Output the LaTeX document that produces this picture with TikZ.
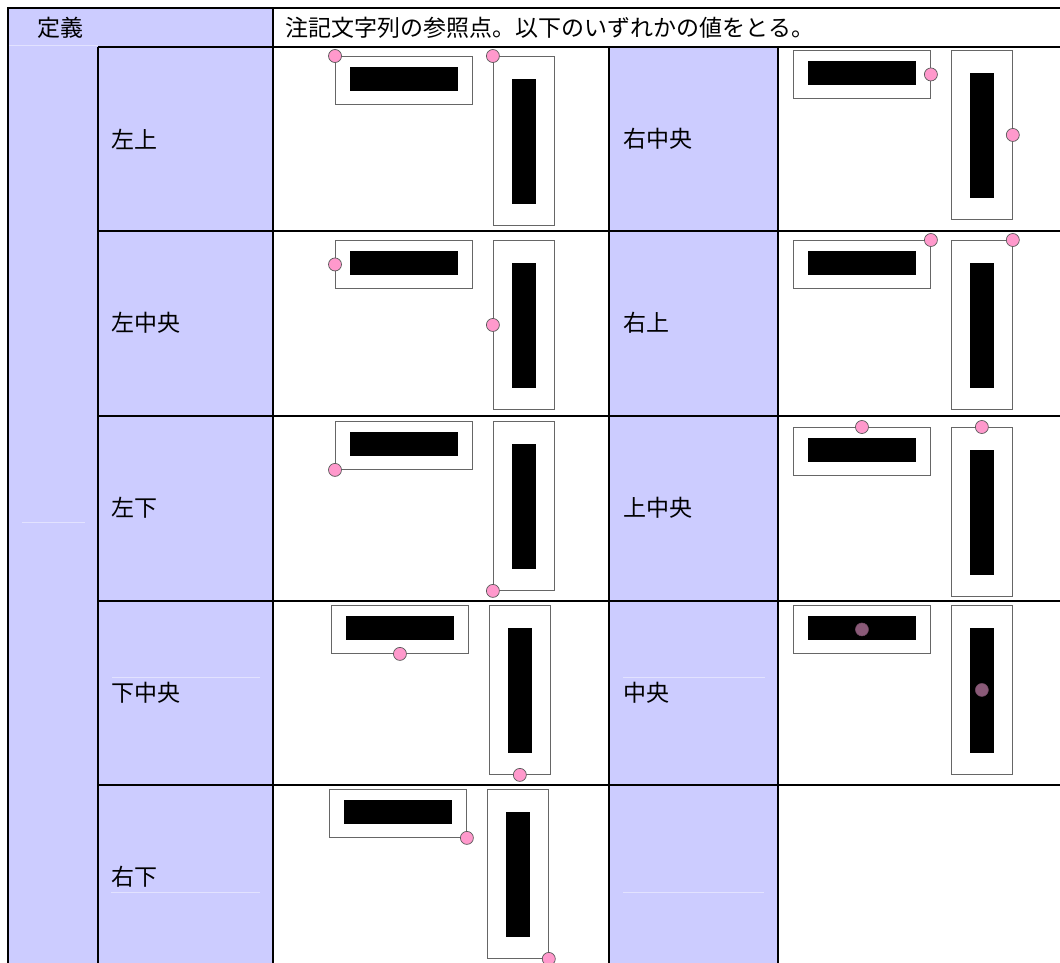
\documentclass[tikz,border=0pt]{standalone}
\usepackage{fontspec}
\newfontfamily\jpfont{Noto Sans CJK JP}
\usetikzlibrary{positioning}
\definecolor{lav}{HTML}{CCCCFF}
\definecolor{lavline}{HTML}{E2E2FF}
\definecolor{refpink}{HTML}{FF99CC}
\definecolor{refdark}{HTML}{8A5A78}
\definecolor{boxgray}{HTML}{666666}
\tikzset{
  grid/.style={line width=1.3pt},
  faint/.style={lavline, line width=0.8pt},
  hbox/.style={draw=boxgray, line width=0.9pt, fill=white, minimum width=137pt, minimum height=48pt, inner sep=0pt},
  vbox/.style={draw=boxgray, line width=0.9pt, fill=white, minimum width=61pt, minimum height=169pt, inner sep=0pt},
  refpt/.style={draw=black!65, fill=refpink, line width=0.7pt},
  refmid/.style={draw=refdark!85!black, fill=refdark, line width=0.5pt},
  lbl/.style={anchor=west, inner sep=0pt, font=\jpfont\fontsize{23}{27}\selectfont}
}
\def\refcell[#1](#2)(#3:#4){%
  \node[hbox, anchor=north west] (#4h) at (#2) {};
  \fill (#4h.north west) ++(15,11) rectangle ++(108,24);
  \node[vbox, right=20pt of #4h.north east, anchor=north west] (#4v) {};
  \fill (#4v.north west) ++(19,23) rectangle ++(24,125);
  \draw[#1] (#4h.#3) circle (6.5pt);
  \draw[#1] (#4v.#3) circle (6.5pt);
}

\begin{document}
\begin{tikzpicture}[x=1pt,y=-1pt]
		%%%%% START %%%%%
		\useasboundingbox (0,0) rectangle (1060,963);
		
		\fill[lav] (8,8) rectangle (273,963);
		\fill[lav] (609,47) rectangle (778,963);
		
		\draw[faint] (8,45) -- (98,45);
		\draw[faint] (22,522) -- (85,522);
		\draw[faint] (112,677) -- (260,677);
		\draw[faint] (623,677) -- (765,677);
		\draw[faint] (111,892) -- (260,892);
		\draw[faint] (623,892) -- (764,892);
		
		\draw[grid] (8,963) -- (8,8) -- (1060,8);
		\draw[grid] (273,8) -- (273,963);
		\draw[grid] (98,47) -- (98,963);
		\draw[grid] (609,47) -- (609,963);
		\draw[grid] (778,47) -- (778,963);
		\draw[grid] (98,47) -- (1060,47);
		\draw[grid] (98,231) -- (1060,231);
		\draw[grid] (98,416) -- (1060,416);
		\draw[grid] (98,601) -- (1060,601);
		\draw[grid] (98,785) -- (1060,785);
		
		\node[lbl] (teigi) at (37,27.5) {定義};
		\node[lbl] (setsumei) at (285,27.5) {注記文字列の参照点。以下のいずれかの値をとる。};
		
		\node[lbl] (tlt) at (111,139) {左上};
		\node[lbl] (tlm) at (111,323) {左中央};
		\node[lbl] (tlb) at (111,508) {左下};
		\node[lbl] (tbc) at (111,693) {下中央};
		\node[lbl] (trb) at (111,877) {右下};
		\node[lbl] (trm) at (623,139) {右中央};
		\node[lbl] (trt) at (623,323) {右上};
		\node[lbl] (ttc) at (623,508) {上中央};
		\node[lbl] (tcc) at (623,693) {中央};
		
		\refcell[refpt](335,56)(north west:lt)
		\refcell[refpt](335,240)(west:lm)
		\refcell[refpt](335,421)(south west:lb)
		\refcell[refpt](331,605)(south:bc)
		\refcell[refpt](329,789)(south east:rb)
		\refcell[refpt](793,50)(east:rm)
		\refcell[refpt](793,240)(north east:rt)
		\refcell[refpt](793,427)(north:tc)
		\refcell[refmid](793,605)(center:cc)
		
		%%%%% END %%%%%
\end{tikzpicture}
\end{document}
